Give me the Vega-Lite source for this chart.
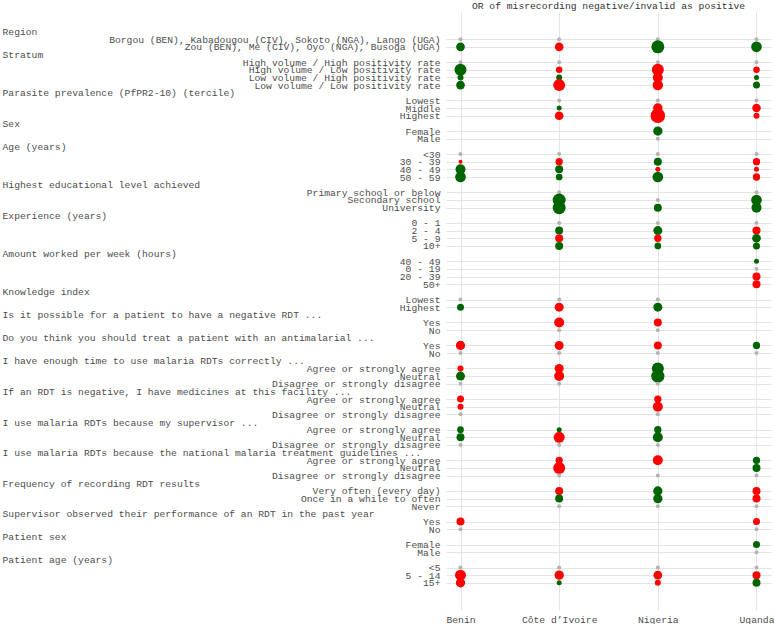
{
  "$schema": "https://vega.github.io/schema/vega-lite/v6.json",
  "width": 325,
  "height": 598,
  "autosize": {"type": "pad"},
  "padding": {"left": 2, "top": 0, "right": 3, "bottom": 0},
  "background": "white",
  "title": {"text": "OR of misrecording negative/invalid as positive", "font": "Liberation Mono", "fontSize": 9.7, "fontWeight": "normal", "color": "#333333", "offset": 1},
  "config": {"view": {"stroke": null}},
  "datasets": {
    "rows": [
      {"r": 0, "key": "h00|Region"},
      {"r": 1, "key": "s01|Borgou (BEN), Kabadougou (CIV), Sokoto (NGA), Lango (UGA)"},
      {"r": 2, "key": "s02|Zou (BEN), Me (CIV), Oyo (NGA), Busoga (UGA)"},
      {"r": 3, "key": "h03|Stratum"},
      {"r": 4, "key": "s04|High volume / High positivity rate"},
      {"r": 5, "key": "s05|High volume / Low positivity rate"},
      {"r": 6, "key": "s06|Low volume / High positivity rate"},
      {"r": 7, "key": "s07|Low volume / Low positivity rate"},
      {"r": 8, "key": "h08|Parasite prevalence (PfPR2-10) (tercile)"},
      {"r": 9, "key": "s09|Lowest"},
      {"r": 10, "key": "s10|Middle"},
      {"r": 11, "key": "s11|Highest"},
      {"r": 12, "key": "h12|Sex"},
      {"r": 13, "key": "s13|Female"},
      {"r": 14, "key": "s14|Male"},
      {"r": 15, "key": "h15|Age (years)"},
      {"r": 16, "key": "s16|<30"},
      {"r": 17, "key": "s17|30 - 39"},
      {"r": 18, "key": "s18|40 - 49"},
      {"r": 19, "key": "s19|50 - 59"},
      {"r": 20, "key": "h20|Highest educational level achieved"},
      {"r": 21, "key": "s21|Primary school or below"},
      {"r": 22, "key": "s22|Secondary school"},
      {"r": 23, "key": "s23|University"},
      {"r": 24, "key": "h24|Experience (years)"},
      {"r": 25, "key": "s25|0 - 1"},
      {"r": 26, "key": "s26|2 - 4"},
      {"r": 27, "key": "s27|5 - 9"},
      {"r": 28, "key": "s28|10+"},
      {"r": 29, "key": "h29|Amount worked per week (hours)"},
      {"r": 30, "key": "s30|40 - 49"},
      {"r": 31, "key": "s31|0 - 19"},
      {"r": 32, "key": "s32|20 - 39"},
      {"r": 33, "key": "s33|50+"},
      {"r": 34, "key": "h34|Knowledge index"},
      {"r": 35, "key": "s35|Lowest"},
      {"r": 36, "key": "s36|Highest"},
      {"r": 37, "key": "h37|Is it possible for a patient to have a negative RDT ..."},
      {"r": 38, "key": "s38|Yes"},
      {"r": 39, "key": "s39|No"},
      {"r": 40, "key": "h40|Do you think you should treat a patient with an antimalarial ..."},
      {"r": 41, "key": "s41|Yes"},
      {"r": 42, "key": "s42|No"},
      {"r": 43, "key": "h43|I have enough time to use malaria RDTs correctly ..."},
      {"r": 44, "key": "s44|Agree or strongly agree"},
      {"r": 45, "key": "s45|Neutral"},
      {"r": 46, "key": "s46|Disagree or strongly disagree"},
      {"r": 47, "key": "h47|If an RDT is negative, I have medicines at this facility ..."},
      {"r": 48, "key": "s48|Agree or strongly agree"},
      {"r": 49, "key": "s49|Neutral"},
      {"r": 50, "key": "s50|Disagree or strongly disagree"},
      {"r": 51, "key": "h51|I use malaria RDTs because my supervisor ..."},
      {"r": 52, "key": "s52|Agree or strongly agree"},
      {"r": 53, "key": "s53|Neutral"},
      {"r": 54, "key": "s54|Disagree or strongly disagree"},
      {"r": 55, "key": "h55|I use malaria RDTs because the national malaria treatment guidelines ..."},
      {"r": 56, "key": "s56|Agree or strongly agree"},
      {"r": 57, "key": "s57|Neutral"},
      {"r": 58, "key": "s58|Disagree or strongly disagree"},
      {"r": 59, "key": "h59|Frequency of recording RDT results"},
      {"r": 60, "key": "s60|Very often (every day)"},
      {"r": 61, "key": "s61|Once in a while to often"},
      {"r": 62, "key": "s62|Never"},
      {"r": 63, "key": "h63|Supervisor observed their performance of an RDT in the past year"},
      {"r": 64, "key": "s64|Yes"},
      {"r": 65, "key": "s65|No"},
      {"r": 66, "key": "h66|Patient sex"},
      {"r": 67, "key": "s67|Female"},
      {"r": 68, "key": "s68|Male"},
      {"r": 69, "key": "h69|Patient age (years)"},
      {"r": 70, "key": "s70|<5"},
      {"r": 71, "key": "s71|5 - 14"},
      {"r": 72, "key": "s72|15+"}
    ],
    "dots": [
      {"r": 1, "country": "Benin", "dir": "ref", "d": 4},
      {"r": 1, "country": "Côte d’Ivoire", "dir": "ref", "d": 4},
      {"r": 1, "country": "Nigeria", "dir": "ref", "d": 4},
      {"r": 1, "country": "Uganda", "dir": "ref", "d": 4},
      {"r": 2, "country": "Benin", "dir": "down", "d": 8.7},
      {"r": 2, "country": "Côte d’Ivoire", "dir": "up", "d": 8.7},
      {"r": 2, "country": "Nigeria", "dir": "down", "d": 13},
      {"r": 2, "country": "Uganda", "dir": "down", "d": 10.7},
      {"r": 4, "country": "Benin", "dir": "ref", "d": 4},
      {"r": 4, "country": "Côte d’Ivoire", "dir": "ref", "d": 4},
      {"r": 4, "country": "Nigeria", "dir": "ref", "d": 4},
      {"r": 4, "country": "Uganda", "dir": "ref", "d": 4},
      {"r": 5, "country": "Benin", "dir": "down", "d": 12},
      {"r": 5, "country": "Côte d’Ivoire", "dir": "up", "d": 6.5},
      {"r": 5, "country": "Nigeria", "dir": "up", "d": 12},
      {"r": 5, "country": "Uganda", "dir": "up", "d": 6.5},
      {"r": 6, "country": "Benin", "dir": "down", "d": 6},
      {"r": 6, "country": "Côte d’Ivoire", "dir": "down", "d": 6},
      {"r": 6, "country": "Nigeria", "dir": "up", "d": 10},
      {"r": 6, "country": "Uganda", "dir": "down", "d": 5},
      {"r": 7, "country": "Benin", "dir": "down", "d": 8.7},
      {"r": 7, "country": "Côte d’Ivoire", "dir": "up", "d": 12},
      {"r": 7, "country": "Nigeria", "dir": "up", "d": 10.5},
      {"r": 7, "country": "Uganda", "dir": "down", "d": 7},
      {"r": 9, "country": "Côte d’Ivoire", "dir": "ref", "d": 4},
      {"r": 9, "country": "Nigeria", "dir": "ref", "d": 4},
      {"r": 9, "country": "Uganda", "dir": "ref", "d": 4},
      {"r": 10, "country": "Côte d’Ivoire", "dir": "down", "d": 5},
      {"r": 10, "country": "Nigeria", "dir": "up", "d": 9.5},
      {"r": 10, "country": "Uganda", "dir": "up", "d": 8.5},
      {"r": 11, "country": "Côte d’Ivoire", "dir": "up", "d": 8.7},
      {"r": 11, "country": "Nigeria", "dir": "up", "d": 14.5},
      {"r": 11, "country": "Uganda", "dir": "up", "d": 6},
      {"r": 13, "country": "Nigeria", "dir": "down", "d": 9.3},
      {"r": 14, "country": "Nigeria", "dir": "ref", "d": 4},
      {"r": 16, "country": "Benin", "dir": "ref", "d": 4},
      {"r": 16, "country": "Côte d’Ivoire", "dir": "ref", "d": 4},
      {"r": 16, "country": "Nigeria", "dir": "ref", "d": 4},
      {"r": 16, "country": "Uganda", "dir": "ref", "d": 4},
      {"r": 17, "country": "Benin", "dir": "up", "d": 4},
      {"r": 17, "country": "Côte d’Ivoire", "dir": "up", "d": 7.3},
      {"r": 17, "country": "Nigeria", "dir": "down", "d": 8},
      {"r": 17, "country": "Uganda", "dir": "up", "d": 7.3},
      {"r": 18, "country": "Benin", "dir": "down", "d": 10},
      {"r": 18, "country": "Côte d’Ivoire", "dir": "down", "d": 8},
      {"r": 18, "country": "Nigeria", "dir": "up", "d": 5},
      {"r": 18, "country": "Uganda", "dir": "up", "d": 5},
      {"r": 19, "country": "Benin", "dir": "down", "d": 10.7},
      {"r": 19, "country": "Côte d’Ivoire", "dir": "down", "d": 6.7},
      {"r": 19, "country": "Nigeria", "dir": "down", "d": 10.7},
      {"r": 19, "country": "Uganda", "dir": "up", "d": 7.3},
      {"r": 21, "country": "Côte d’Ivoire", "dir": "ref", "d": 4},
      {"r": 21, "country": "Uganda", "dir": "ref", "d": 4},
      {"r": 22, "country": "Côte d’Ivoire", "dir": "down", "d": 13},
      {"r": 22, "country": "Nigeria", "dir": "ref", "d": 4},
      {"r": 22, "country": "Uganda", "dir": "down", "d": 10.7},
      {"r": 23, "country": "Côte d’Ivoire", "dir": "down", "d": 13},
      {"r": 23, "country": "Nigeria", "dir": "down", "d": 8},
      {"r": 23, "country": "Uganda", "dir": "down", "d": 10},
      {"r": 25, "country": "Côte d’Ivoire", "dir": "ref", "d": 4},
      {"r": 25, "country": "Nigeria", "dir": "ref", "d": 4},
      {"r": 25, "country": "Uganda", "dir": "ref", "d": 4},
      {"r": 26, "country": "Côte d’Ivoire", "dir": "down", "d": 8},
      {"r": 26, "country": "Nigeria", "dir": "down", "d": 9},
      {"r": 26, "country": "Uganda", "dir": "up", "d": 8},
      {"r": 27, "country": "Côte d’Ivoire", "dir": "up", "d": 8},
      {"r": 27, "country": "Nigeria", "dir": "up", "d": 7.3},
      {"r": 27, "country": "Uganda", "dir": "down", "d": 8.7},
      {"r": 28, "country": "Côte d’Ivoire", "dir": "down", "d": 8},
      {"r": 28, "country": "Nigeria", "dir": "down", "d": 6.7},
      {"r": 28, "country": "Uganda", "dir": "down", "d": 7},
      {"r": 30, "country": "Uganda", "dir": "down", "d": 5},
      {"r": 31, "country": "Uganda", "dir": "ref", "d": 4},
      {"r": 32, "country": "Uganda", "dir": "up", "d": 8},
      {"r": 33, "country": "Uganda", "dir": "up", "d": 8},
      {"r": 35, "country": "Benin", "dir": "ref", "d": 4},
      {"r": 35, "country": "Côte d’Ivoire", "dir": "ref", "d": 4},
      {"r": 35, "country": "Nigeria", "dir": "ref", "d": 4},
      {"r": 36, "country": "Benin", "dir": "down", "d": 7},
      {"r": 36, "country": "Côte d’Ivoire", "dir": "up", "d": 9},
      {"r": 36, "country": "Nigeria", "dir": "down", "d": 9},
      {"r": 38, "country": "Côte d’Ivoire", "dir": "up", "d": 10},
      {"r": 38, "country": "Nigeria", "dir": "up", "d": 8},
      {"r": 39, "country": "Côte d’Ivoire", "dir": "ref", "d": 4},
      {"r": 39, "country": "Nigeria", "dir": "ref", "d": 4},
      {"r": 41, "country": "Benin", "dir": "up", "d": 9.3},
      {"r": 41, "country": "Côte d’Ivoire", "dir": "up", "d": 9},
      {"r": 41, "country": "Nigeria", "dir": "up", "d": 8},
      {"r": 41, "country": "Uganda", "dir": "down", "d": 7.3},
      {"r": 42, "country": "Benin", "dir": "ref", "d": 4},
      {"r": 42, "country": "Côte d’Ivoire", "dir": "ref", "d": 4},
      {"r": 42, "country": "Nigeria", "dir": "ref", "d": 4},
      {"r": 42, "country": "Uganda", "dir": "ref", "d": 4},
      {"r": 44, "country": "Benin", "dir": "up", "d": 6},
      {"r": 44, "country": "Côte d’Ivoire", "dir": "up", "d": 9},
      {"r": 44, "country": "Nigeria", "dir": "down", "d": 12},
      {"r": 45, "country": "Benin", "dir": "down", "d": 9},
      {"r": 45, "country": "Côte d’Ivoire", "dir": "up", "d": 10},
      {"r": 45, "country": "Nigeria", "dir": "down", "d": 13.3},
      {"r": 46, "country": "Benin", "dir": "ref", "d": 4},
      {"r": 46, "country": "Côte d’Ivoire", "dir": "ref", "d": 4},
      {"r": 46, "country": "Nigeria", "dir": "ref", "d": 4},
      {"r": 48, "country": "Benin", "dir": "up", "d": 7},
      {"r": 48, "country": "Nigeria", "dir": "up", "d": 7.3},
      {"r": 49, "country": "Benin", "dir": "up", "d": 6},
      {"r": 49, "country": "Nigeria", "dir": "up", "d": 10},
      {"r": 50, "country": "Benin", "dir": "ref", "d": 4},
      {"r": 50, "country": "Nigeria", "dir": "ref", "d": 4},
      {"r": 52, "country": "Benin", "dir": "down", "d": 6.7},
      {"r": 52, "country": "Côte d’Ivoire", "dir": "down", "d": 5},
      {"r": 52, "country": "Nigeria", "dir": "down", "d": 7.3},
      {"r": 53, "country": "Benin", "dir": "down", "d": 8},
      {"r": 53, "country": "Côte d’Ivoire", "dir": "up", "d": 11},
      {"r": 53, "country": "Nigeria", "dir": "down", "d": 10},
      {"r": 54, "country": "Benin", "dir": "ref", "d": 4},
      {"r": 54, "country": "Côte d’Ivoire", "dir": "ref", "d": 4},
      {"r": 54, "country": "Nigeria", "dir": "ref", "d": 4},
      {"r": 56, "country": "Côte d’Ivoire", "dir": "up", "d": 7.3},
      {"r": 56, "country": "Nigeria", "dir": "up", "d": 10},
      {"r": 56, "country": "Uganda", "dir": "down", "d": 7.3},
      {"r": 57, "country": "Côte d’Ivoire", "dir": "up", "d": 12},
      {"r": 57, "country": "Uganda", "dir": "down", "d": 8},
      {"r": 58, "country": "Côte d’Ivoire", "dir": "ref", "d": 4},
      {"r": 58, "country": "Nigeria", "dir": "ref", "d": 4},
      {"r": 58, "country": "Uganda", "dir": "ref", "d": 4},
      {"r": 60, "country": "Côte d’Ivoire", "dir": "up", "d": 8},
      {"r": 60, "country": "Nigeria", "dir": "down", "d": 9.3},
      {"r": 60, "country": "Uganda", "dir": "up", "d": 8},
      {"r": 61, "country": "Côte d’Ivoire", "dir": "down", "d": 8},
      {"r": 61, "country": "Nigeria", "dir": "down", "d": 9.3},
      {"r": 61, "country": "Uganda", "dir": "up", "d": 8},
      {"r": 62, "country": "Côte d’Ivoire", "dir": "ref", "d": 4},
      {"r": 62, "country": "Nigeria", "dir": "ref", "d": 4},
      {"r": 62, "country": "Uganda", "dir": "ref", "d": 4},
      {"r": 64, "country": "Benin", "dir": "up", "d": 8},
      {"r": 64, "country": "Uganda", "dir": "up", "d": 7},
      {"r": 65, "country": "Benin", "dir": "ref", "d": 4},
      {"r": 65, "country": "Uganda", "dir": "ref", "d": 4},
      {"r": 67, "country": "Uganda", "dir": "down", "d": 7},
      {"r": 68, "country": "Uganda", "dir": "ref", "d": 4},
      {"r": 70, "country": "Benin", "dir": "ref", "d": 4},
      {"r": 70, "country": "Côte d’Ivoire", "dir": "ref", "d": 4},
      {"r": 70, "country": "Nigeria", "dir": "ref", "d": 4},
      {"r": 70, "country": "Uganda", "dir": "ref", "d": 4},
      {"r": 71, "country": "Benin", "dir": "up", "d": 11},
      {"r": 71, "country": "Côte d’Ivoire", "dir": "up", "d": 9.3},
      {"r": 71, "country": "Nigeria", "dir": "up", "d": 8.7},
      {"r": 71, "country": "Uganda", "dir": "up", "d": 8},
      {"r": 72, "country": "Benin", "dir": "up", "d": 9.3},
      {"r": 72, "country": "Côte d’Ivoire", "dir": "down", "d": 5},
      {"r": 72, "country": "Nigeria", "dir": "up", "d": 6},
      {"r": 72, "country": "Uganda", "dir": "down", "d": 8}
    ]
  },
  "data": {"name": "dots"},
  "transform": [
    {"lookup": "r", "from": {"data": {"name": "rows"}, "key": "r", "fields": ["key"]}}
  ],
  "mark": {"type": "circle", "opacity": 1, "strokeWidth": 0},
  "encoding": {
    "x": {
      "field": "country", "type": "nominal",
      "scale": {"type": "point", "domain": ["Benin", "Côte d’Ivoire", "Nigeria", "Uganda"], "padding": 0.147},
      "axis": {"title": null, "orient": "bottom", "ticks": false, "domain": false, "labelAngle": 0, "grid": true, "gridColor": "#e4e4e4", "gridWidth": 1, "labelPadding": 4, "labelFont": "Liberation Mono", "labelFontSize": 9.7, "labelColor": "#4d4d4d"}
    },
    "y": {
      "field": "key", "type": "nominal",
      "scale": {"type": "point", "padding": 0.55, "domain": [
        "hx1|",
        "hx2|",
        "h00|Region",
        "s01|Borgou (BEN), Kabadougou (CIV), Sokoto (NGA), Lango (UGA)",
        "s02|Zou (BEN), Me (CIV), Oyo (NGA), Busoga (UGA)",
        "h03|Stratum",
        "s04|High volume / High positivity rate",
        "s05|High volume / Low positivity rate",
        "s06|Low volume / High positivity rate",
        "s07|Low volume / Low positivity rate",
        "h08|Parasite prevalence (PfPR2-10) (tercile)",
        "s09|Lowest",
        "s10|Middle",
        "s11|Highest",
        "h12|Sex",
        "s13|Female",
        "s14|Male",
        "h15|Age (years)",
        "s16|<30",
        "s17|30 - 39",
        "s18|40 - 49",
        "s19|50 - 59",
        "h20|Highest educational level achieved",
        "s21|Primary school or below",
        "s22|Secondary school",
        "s23|University",
        "h24|Experience (years)",
        "s25|0 - 1",
        "s26|2 - 4",
        "s27|5 - 9",
        "s28|10+",
        "h29|Amount worked per week (hours)",
        "s30|40 - 49",
        "s31|0 - 19",
        "s32|20 - 39",
        "s33|50+",
        "h34|Knowledge index",
        "s35|Lowest",
        "s36|Highest",
        "h37|Is it possible for a patient to have a negative RDT ...",
        "s38|Yes",
        "s39|No",
        "h40|Do you think you should treat a patient with an antimalarial ...",
        "s41|Yes",
        "s42|No",
        "h43|I have enough time to use malaria RDTs correctly ...",
        "s44|Agree or strongly agree",
        "s45|Neutral",
        "s46|Disagree or strongly disagree",
        "h47|If an RDT is negative, I have medicines at this facility ...",
        "s48|Agree or strongly agree",
        "s49|Neutral",
        "s50|Disagree or strongly disagree",
        "h51|I use malaria RDTs because my supervisor ...",
        "s52|Agree or strongly agree",
        "s53|Neutral",
        "s54|Disagree or strongly disagree",
        "h55|I use malaria RDTs because the national malaria treatment guidelines ...",
        "s56|Agree or strongly agree",
        "s57|Neutral",
        "s58|Disagree or strongly disagree",
        "h59|Frequency of recording RDT results",
        "s60|Very often (every day)",
        "s61|Once in a while to often",
        "s62|Never",
        "h63|Supervisor observed their performance of an RDT in the past year",
        "s64|Yes",
        "s65|No",
        "h66|Patient sex",
        "s67|Female",
        "s68|Male",
        "h69|Patient age (years)",
        "s70|<5",
        "s71|5 - 14",
        "s72|15+",
        "hx3|",
        "hx4|",
        "hx5|"
      ]},
      "axis": {
        "title": null, "ticks": false, "domain": false, "grid": true,
        "gridColor": "#e4e4e4", "gridWidth": 1,
        "gridOpacity": {"condition": {"test": "substring(datum.value,0,1)=='h'", "value": 0}, "value": 1},
        "labelAlign": {"condition": {"test": "substring(datum.value,0,1)=='h'", "value": "left"}, "value": "right"},
        "labelPadding": {"condition": {"test": "substring(datum.value,0,1)=='h'", "value": 444}, "value": 6},
        "labelExpr": "substring(datum.value, 4)",
        "labelLimit": 1000, "labelOverlap": false, "labelBound": false,
        "labelFont": "Liberation Mono", "labelFontSize": 9.7, "labelColor": "#4d4d4d"
      }
    },
    "color": {
      "field": "dir", "type": "nominal",
      "scale": {"domain": ["ref", "up", "down"], "range": ["#b3b3b3", "#ff0000", "#006400"]},
      "legend": null
    },
    "size": {
      "field": "d", "type": "quantitative",
      "scale": {"type": "pow", "exponent": 2, "domain": [0, 14], "range": [0, 196]},
      "legend": null
    }
  }
}
